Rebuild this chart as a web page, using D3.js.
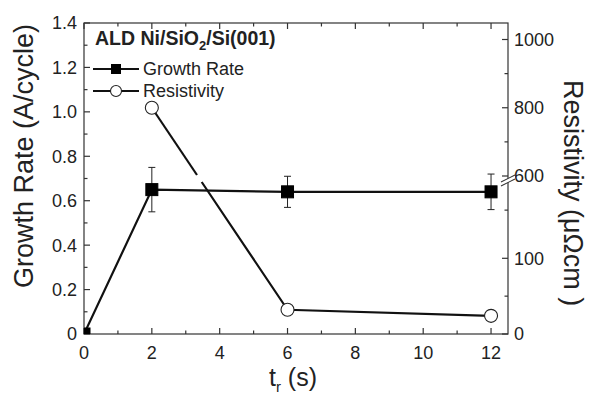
<!DOCTYPE html>
<html>
<head>
<meta charset="utf-8">
<script src="https://cdn.jsdelivr.net/npm/d3@7"></script>
<style>
  body { margin: 0; background: #fff; }
  text { font-family: Arial, "Liberation Sans", sans-serif; fill: #222; }
</style>
</head>
<body>
<svg id="chart" width="589" height="395"></svg>
<script>
// data
const tr = [0, 2, 6, 12];
const growthRate = [0, 0.65, 0.64, 0.64];
const growthErr = [0, 0.10, 0.07, 0.08];
const resT = [2, 6, 12];
const resistivity = [800, 32, 24];

const xTicks = [0, 2, 4, 6, 8, 10, 12];
const yLeftTicks = [0, 0.2, 0.4, 0.6, 0.8, 1.0, 1.2, 1.4];
const yRightLowTicks = [0, 100];
const yRightHighTicks = [600, 800, 1000];

function draw() {
  const left = 84,
    right = 508,
    top = 23,
    bottom = 334;
  const breakY = 180;

  const svg = d3.select("#chart");

  const x = d3.scaleLinear().domain([0, 12.5]).range([left, right]);
  const yL = d3.scaleLinear().domain([0, 1.4]).range([bottom, top]);
  // broken right axis: two linear pieces
  const yLow = d3.scaleLinear().domain([0, 100]).range([bottom, 258.3]);
  const yHigh = d3.scaleLinear().domain([600, 1000]).range([176, 39.5]);
  const yR = (v) => (v <= 200 ? yLow(v) : yHigh(v));

  svg
    .append("defs")
    .append("clipPath")
    .attr("id", "plot")
    .append("rect")
    .attr("x", left)
    .attr("y", top)
    .attr("width", right - left)
    .attr("height", bottom - top);

  const axis = svg.append("g").attr("stroke", "#333").attr("stroke-width", 1.2);

  // frame
  axis
    .append("rect")
    .attr("x", left)
    .attr("y", top)
    .attr("width", right - left)
    .attr("height", bottom - top)
    .attr("fill", "none");

  // bottom + top ticks
  d3.range(0, 13, 1).forEach((t) => {
    const len = t % 2 === 0 ? 6 : 3.5;
    axis.append("line").attr("x1", x(t)).attr("x2", x(t)).attr("y1", bottom).attr("y2", bottom - len);
    axis.append("line").attr("x1", x(t)).attr("x2", x(t)).attr("y1", top).attr("y2", top + len);
  });
  svg
    .selectAll(".xlab")
    .data(xTicks)
    .join("text")
    .attr("x", (d) => x(d))
    .attr("y", 359)
    .attr("text-anchor", "middle")
    .style("font-size", "18px")
    .text((d) => d);

  // left ticks
  d3.range(0, 15, 1).forEach((i) => {
    const v = i / 10;
    const len = i % 2 === 0 ? 6 : 3.5;
    axis.append("line").attr("x1", left).attr("x2", left + len).attr("y1", yL(v)).attr("y2", yL(v));
  });
  svg
    .selectAll(".ylab")
    .data(yLeftTicks)
    .join("text")
    .attr("x", 77)
    .attr("y", (d) => yL(d))
    .attr("dy", "0.36em")
    .attr("text-anchor", "end")
    .style("font-size", "18px")
    .text((d) => (d === 0 ? "0" : d3.format(".1f")(d)));

  // right ticks
  const rMajor = yRightLowTicks.concat(yRightHighTicks);
  const rMinor = [50, 500, 700, 900];
  rMajor.forEach((v) => {
    axis.append("line").attr("x1", right).attr("x2", right - 6).attr("y1", yR(v)).attr("y2", yR(v));
  });
  rMinor.forEach((v) => {
    const yy = v < 200 ? yLow(v) : yHigh(v);
    axis.append("line").attr("x1", right).attr("x2", right - 3.5).attr("y1", yy).attr("y2", yy);
  });
  svg
    .selectAll(".rlab")
    .data(rMajor)
    .join("text")
    .attr("x", 514)
    .attr("y", (d) => yR(d))
    .attr("dy", "0.36em")
    .style("font-size", "18px")
    .text((d) => d);

  // axis break marker
  const brk = svg.append("g");
  brk
    .append("polygon")
    .attr("points", `${right - 7},${breakY + 2} ${right + 7},${breakY - 5} ${right + 7},${breakY - 1} ${right - 7},${breakY + 6}`)
    .attr("fill", "#fff");
  [0, 4].forEach((o) => {
    brk
      .append("line")
      .attr("x1", right - 7)
      .attr("y1", breakY + 2 + o)
      .attr("x2", right + 7)
      .attr("y2", breakY - 5 + o)
      .attr("stroke", "#333")
      .attr("stroke-width", 1.1);
  });

  // titles
  const xt = svg
    .append("text")
    .attr("x", 293)
    .attr("y", 386)
    .attr("text-anchor", "middle")
    .style("font-size", "25px");
  xt.append("tspan").text("t");
  xt.append("tspan").attr("dy", 6).style("font-size", "15px").text("r");
  xt.append("tspan").attr("dy", -6).text(" (s)");

  svg
    .append("text")
    .attr("transform", "translate(33,156) rotate(-90)")
    .attr("text-anchor", "middle")
    .style("font-size", "27px")
    .text("Growth Rate (A/cycle)");

  svg
    .append("text")
    .attr("transform", "translate(564,193) rotate(90)")
    .attr("text-anchor", "middle")
    .style("font-size", "27px")
    .text("Resistivity  (\u03bc\u03a9cm )");

  const plot = svg.append("g").attr("clip-path", "url(#plot)");

  // growth rate
  const gData = tr.map((t, i) => ({ t, v: growthRate[i], e: growthErr[i] }));
  plot
    .append("path")
    .datum(gData)
    .attr("d", d3.line().x((d) => x(d.t)).y((d) => yL(d.v)))
    .attr("fill", "none")
    .attr("stroke", "#111")
    .attr("stroke-width", 2.2);

  // resistivity line, with a gap at the axis break
  const rPts = resT.map((t, i) => [x(t), yR(resistivity[i])]);
  const segs = [[rPts[0]]];
  for (let i = 1; i < rPts.length; i++) {
    const [x0, y0] = rPts[i - 1];
    const [x1, y1] = rPts[i];
    if ((y0 - breakY) * (y1 - breakY) < 0) {
      const at = (yy) => [x0 + ((yy - y0) / (y1 - y0)) * (x1 - x0), yy];
      segs[segs.length - 1].push(at(breakY - 5));
      segs.push([at(breakY + 2)]);
    }
    segs[segs.length - 1].push(rPts[i]);
  }
  segs.forEach((s) => {
    plot
      .append("path")
      .attr("d", d3.line()(s))
      .attr("fill", "none")
      .attr("stroke", "#111")
      .attr("stroke-width", 2.2);
  });

  // error bars
  const err = plot.append("g").attr("stroke", "#222").attr("stroke-width", 1);
  gData
    .filter((d) => d.e > 0)
    .forEach((d) => {
      const cx = x(d.t);
      err.append("line").attr("x1", cx).attr("x2", cx).attr("y1", yL(d.v + d.e)).attr("y2", yL(d.v - d.e));
      [d.v + d.e, d.v - d.e].forEach((v) => {
        err.append("line").attr("x1", cx - 3.5).attr("x2", cx + 3.5).attr("y1", yL(v)).attr("y2", yL(v));
      });
    });

  plot
    .selectAll(".sq")
    .data(gData)
    .join("rect")
    .attr("x", (d) => x(d.t) - 6)
    .attr("y", (d) => yL(d.v) - 6)
    .attr("width", 12)
    .attr("height", 12)
    .attr("fill", "#000")
    .attr("stroke", "#000");

  plot
    .selectAll(".ci")
    .data(resT)
    .join("circle")
    .attr("cx", (d) => x(d))
    .attr("cy", (d, i) => yR(resistivity[i]))
    .attr("r", 6.5)
    .attr("fill", "#fff")
    .attr("stroke", "#222")
    .attr("stroke-width", 1.1);

  // legend
  svg
    .append("text")
    .attr("x", 95)
    .attr("y", 45)
    .style("font-size", "19.5px")
    .style("font-weight", "bold")
    .call((t) => {
      t.append("tspan").text("ALD Ni/SiO");
      t.append("tspan").attr("dy", 5).style("font-size", "13px").text("2");
      t.append("tspan").attr("dy", -5).text("/Si(001)");
    });

  const legendItems = [
    { label: "Growth Rate", y: 69, shape: "square" },
    { label: "Resistivity", y: 91, shape: "circle" },
  ];
  const lg = svg
    .selectAll(".lg")
    .data(legendItems)
    .join("g")
    .attr("transform", (d) => `translate(0,${d.y})`);
  lg.append("line")
    .attr("x1", 93)
    .attr("x2", 139)
    .attr("stroke", "#111")
    .attr("stroke-width", 2);
  lg.filter((d) => d.shape === "square")
    .append("rect")
    .attr("x", 111)
    .attr("y", -5)
    .attr("width", 10)
    .attr("height", 10)
    .attr("fill", "#000");
  lg.filter((d) => d.shape === "circle")
    .append("circle")
    .attr("cx", 116)
    .attr("r", 5.5)
    .attr("fill", "#fff")
    .attr("stroke", "#222")
    .attr("stroke-width", 1.1);
  lg.append("text")
    .attr("x", 143)
    .attr("dy", "0.36em")
    .style("font-size", "18px")
    .text((d) => d.label);
}

draw();
</script>
</body>
</html>
